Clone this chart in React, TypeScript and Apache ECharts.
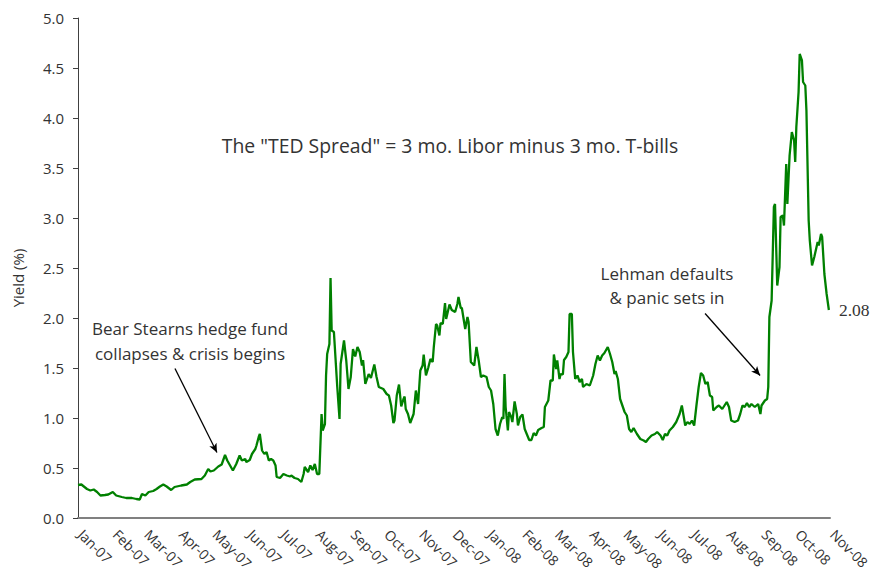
import React, { useEffect, useRef } from "react";
import * as echarts from "echarts";

// Days since 1 Jan 2007
const days = [
  0, 3, 8, 11, 14, 17, 20, 24, 27, 31, 34, 39, 43, 48, 52, 55, 57, 60, 63, 67, 70, 73, 76, 79, 83, 86, 92, 97, 100, 104,
  110, 113, 116, 118, 121, 125, 128, 131, 133, 138, 141, 144, 146, 149, 150, 153, 155, 158, 159, 161, 162, 164, 166, 168,
  170, 172, 174, 176, 177, 180, 183, 186, 189, 190, 193, 196, 199, 201, 202, 205, 207, 209, 211, 213, 215, 217, 218, 220,
  221, 222, 224, 225, 226, 228, 231, 233, 234, 237, 239, 241, 243, 245, 247, 249, 251, 253, 254, 256, 259, 261, 264, 266,
  268, 272, 275, 277, 279, 281, 282, 284, 286, 288, 290, 291, 292, 294, 296, 299, 301, 303, 305, 307, 308, 310, 312, 314,
  316, 317, 319, 320, 322, 323, 325, 327, 328, 331, 333, 336, 338, 339, 341, 342, 345, 347, 348, 350, 353, 355, 357, 359,
  361, 364, 366, 368, 370, 372, 374, 376, 378, 379, 380, 381, 383, 384, 386, 387, 389, 391, 392, 394, 396, 398, 400, 402,
  404, 406, 408, 410, 413, 415, 416, 419, 421, 423, 424, 426, 427, 429, 430, 432, 433, 435, 437, 438, 440, 441, 443, 445,
  447, 449, 450, 453, 456, 459, 461, 463, 465, 467, 469, 472, 474, 476, 478, 479, 481, 483, 485, 487, 489, 491, 493, 495,
  498, 501, 504, 506, 508, 511, 514, 516, 519, 521, 523, 525, 527, 530, 533, 536, 538, 541, 543, 545, 547, 549, 551, 553,
  555, 557, 559, 561, 563, 565, 566, 569, 571, 574, 576, 578, 580, 582, 585, 588, 590, 592, 594, 596, 598, 600, 603, 606,
  608, 609, 612, 614, 615, 616, 618, 620, 621, 623, 625, 626, 628, 629, 631, 632, 634, 636, 638, 639, 640, 642, 643, 645,
  646, 648, 649, 651, 652, 654, 656, 658, 659, 660, 662, 663, 665, 667, 669,
];

// TED spread (%)
const tedSpread = [
  0.33, 0.335, 0.29, 0.275, 0.285, 0.26, 0.225, 0.23, 0.235, 0.26, 0.225, 0.21, 0.2, 0.2, 0.19, 0.185, 0.24, 0.225, 0.26,
  0.27, 0.29, 0.315, 0.335, 0.315, 0.28, 0.31, 0.325, 0.335, 0.36, 0.385,
  0.39, 0.425, 0.49, 0.465, 0.475, 0.515, 0.535, 0.63, 0.575, 0.475, 0.54, 0.625, 0.575, 0.59, 0.56, 0.58, 0.64, 0.69,
  0.725, 0.81, 0.84, 0.675, 0.64, 0.66,
  0.575, 0.59, 0.575, 0.525, 0.41, 0.4, 0.44, 0.425, 0.415, 0.425, 0.4, 0.39, 0.36, 0.44, 0.51, 0.46, 0.525, 0.48, 0.54,
  0.44, 0.44, 1.04, 0.875, 0.94,
  1.425, 1.64, 1.74, 2.4, 1.875, 1.86, 1.31, 0.99, 1.54, 1.775, 1.575, 1.29, 1.41, 1.69, 1.615, 1.71, 1.66, 1.525, 1.58,
  1.34, 1.44, 1.4, 1.535, 1.41,
  1.31, 1.29, 1.24, 1.225, 1.125, 0.95, 0.975, 1.225, 1.335, 1.115, 1.19, 1.215, 1.09, 1.04, 0.95, 1.04, 1.275, 1.14,
  1.475, 1.525, 1.635, 1.425, 1.5, 1.59,
  1.56, 1.71, 1.94, 1.925, 1.825, 1.95, 1.94, 2.15, 1.99, 2.135, 2.08, 2.06, 2.14, 2.21, 2.1, 2.1, 1.89, 2.01, 1.96, 1.56,
  1.525, 1.71, 1.575, 1.41,
  1.425, 1.41, 1.31, 1.275, 1.14, 0.89, 0.825, 0.94, 1.01, 0.99, 1.44, 1.11, 0.875, 1.06, 1.01, 0.96, 1.165, 1.04, 0.925,
  1.01, 1.035, 0.89, 0.835, 0.78,
  0.78, 0.85, 0.825, 0.88, 0.9, 0.91, 1.11, 1.175, 1.375, 1.375, 1.635, 1.49, 1.575, 1.39, 1.44, 1.435, 1.58, 1.61, 1.66,
  2.04, 2.04, 1.66, 1.39, 1.425,
  1.36, 1.39, 1.31, 1.34, 1.325, 1.425, 1.54, 1.625, 1.575, 1.625, 1.65, 1.71, 1.64, 1.56, 1.44, 1.47, 1.39, 1.19, 1.125,
  1.06, 1.025, 0.89, 0.86, 0.9,
  0.84, 0.79, 0.775, 0.76, 0.79, 0.825, 0.84, 0.86, 0.825, 0.78, 0.84, 0.825, 0.875, 0.91, 0.96, 1.04, 1.125, 0.925, 0.96,
  0.94, 0.975, 0.925, 1.125, 1.31,
  1.45, 1.425, 1.34, 1.36, 1.225, 1.21, 1.075, 1.11, 1.125, 1.09, 1.125, 1.16, 1.11, 0.975, 0.96, 0.975, 1.04, 1.125, 1.11,
  1.15, 1.11, 1.14, 1.11, 1.14,
  1.04, 1.125, 1.175, 1.19, 1.31, 2.01, 2.175, 3.11, 3.14, 2.325, 2.51, 3.01, 3.025, 2.925, 3.54, 3.14, 3.625, 3.86, 3.775,
  3.56, 3.91, 4.26, 4.64, 4.575,
  4.36, 4.325, 4.075, 2.975, 2.775, 2.525, 2.61, 2.71, 2.76, 2.725, 2.84, 2.81, 2.44, 2.24, 2.08,
];

// Month tick positions (days since 1 Jan 2007) and their labels
const monthStarts = [0, 31, 59, 90, 120, 151, 181, 212, 243, 273, 304, 334, 365, 396, 425, 456, 486, 517, 547, 578, 609, 639, 670];
const monthLabels = [
  "Jan-07", "Feb-07", "Mar-07", "Apr-07", "May-07", "Jun-07", "Jul-07", "Aug-07", "Sep-07", "Oct-07", "Nov-07", "Dec-07",
  "Jan-08", "Feb-08", "Mar-08", "Apr-08", "May-08", "Jun-08", "Jul-08", "Aug-08", "Sep-08", "Oct-08", "Nov-08",
];

const yTicks = [0, 0.5, 1, 1.5, 2, 2.5, 3, 3.5, 4, 4.5, 5];

// Annotation arrows: [fromDay, fromValue, toDay, toValue]
const bearArrow = [86.4, 1.495, 123.8, 0.655];
const lehmanArrow = [558.7, 2.045, 607.7, 1.425];

const FONT = "'Open Sans'";
const TEXT = "#333333";

export default function App() {
  const ref = useRef<HTMLDivElement>(null);

  useEffect(() => {
    if (!ref.current) return;
    const chart = echarts.init(ref.current, null, { renderer: "svg" });
    const data = days.map((d, i) => [d, tedSpread[i]]);

    const arrowLine = (a: number[]) => [
      { coord: [a[0], a[1]], symbol: "none" },
      { coord: [a[2], a[3]], symbol: "arrow" },
    ];

    chart.setOption({
      animation: false,
      backgroundColor: "#ffffff",
      grid: { left: 78, right: 42, top: 18, bottom: 66, containLabel: false, outerBoundsMode: "none" },
      xAxis: {
        type: "value",
        min: monthStarts[0],
        max: monthStarts[monthStarts.length - 1],
        splitLine: { show: false },
        axisLine: { lineStyle: { color: "#808080", width: 2 } },
        axisTick: { show: false },
        axisLabel: {
          customValues: monthStarts,
          formatter: (v: number) => {
            const i = monthStarts.indexOf(v);
            return i >= 0 ? monthLabels[i] : "";
          },
          rotate: -45,
          margin: 11,
          padding: [0, 0, 0, 4],
          color: TEXT,
          fontFamily: FONT,
          fontSize: 14,
          showMinLabel: true,
          showMaxLabel: true,
          hideOverlap: false,
        },
      },
      yAxis: {
        type: "value",
        min: 0,
        max: 5,
        interval: 0.5,
        splitLine: { show: false },
        axisLine: { show: true, lineStyle: { color: "#404040", width: 1 } },
        axisTick: { show: true, length: 5, lineStyle: { color: "#404040" } },
        axisLabel: {
          formatter: (v: number) => (yTicks.includes(v) ? v.toFixed(1) : ""),
          color: TEXT,
          fontFamily: FONT,
          fontSize: 15,
          margin: 14,
        },
      },
      series: [
        {
          type: "line",
          data,
          showSymbol: false,
          symbol: "none",
          lineStyle: { color: "#008000", width: 2.3 },
          endLabel: {
            show: true,
            formatter: (p: any) => Number(p.value[1]).toFixed(2),
            color: TEXT,
            fontFamily: "'Liberation Serif'",
            fontSize: 17.5,
            distance: 10,
          },
          markLine: {
            silent: true,
            symbolSize: [6, 9],
            label: { show: false },
            lineStyle: { color: "#000000", width: 1.3, type: "solid" },
            data: [arrowLine(bearArrow), arrowLine(lehmanArrow)],
          },
        },
      ],
      graphic: [
        {
          type: "text",
          x: 18,
          y: 278,
          rotation: Math.PI / 2,
          style: {
            text: "Yield (%)",
            fill: TEXT,
            font: `15px ${FONT}`,
            align: "center",
            verticalAlign: "middle",
          },
        },
        {
          type: "text",
          x: 450,
          y: 145,
          style: {
            text: 'The "TED Spread" = 3 mo. Libor minus 3 mo. T-bills',
            fill: TEXT,
            font: `19.4px ${FONT}`,
            align: "center",
            verticalAlign: "middle",
          },
        },
        {
          type: "text",
          x: 190,
          y: 341,
          style: {
            text: "Bear Stearns hedge fund\ncollapses & crisis begins",
            fill: TEXT,
            font: `17px ${FONT}`,
            lineHeight: 25,
            align: "center",
            verticalAlign: "middle",
          },
        },
        {
          type: "text",
          x: 667,
          y: 285,
          style: {
            text: "Lehman defaults\n& panic sets in",
            fill: TEXT,
            font: `17px ${FONT}`,
            lineHeight: 24,
            align: "center",
            verticalAlign: "middle",
          },
        },
      ],
    });

    return () => chart.dispose();
  }, []);

  return <div ref={ref} style={{ width: 872, height: 584, position: "absolute", left: 0, top: 0 }} />;
}
